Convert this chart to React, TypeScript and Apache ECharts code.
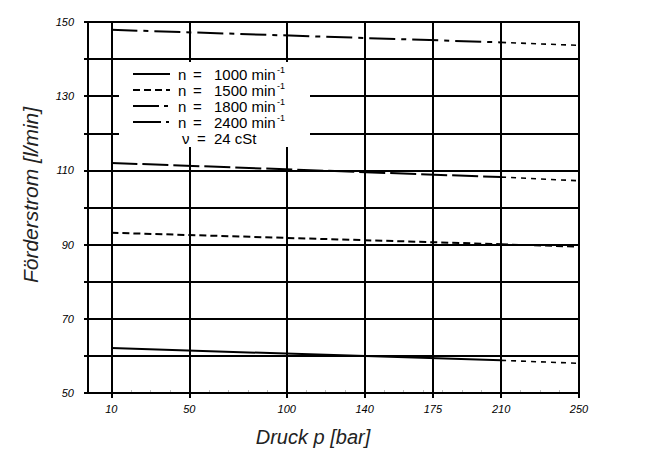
import React, { useEffect, useRef } from 'react';
import * as echarts from 'echarts';

const FONT = '"Liberation Sans", Arial, Helvetica, sans-serif';

// axis ticks
const pressureTicks = [10, 50, 100, 140, 175, 210, 250];
const pressureMinorTicks = [20, 30, 40, 60, 70, 80, 90, 110, 120, 130, 150, 160, 170, 180, 190, 200, 220, 230, 240];
const flowTicks = [50, 70, 90, 110, 130, 150];

// pressures (bar) for the measured part and the extrapolated part
const pressureMain = [10, 210];
const pressureExt = [210, 250];

// delivery flow (l/min)
const flow1000Main = [62.1, 58.8];
const flow1000Ext = [58.8, 58.0];
const flow1500Main = [93.2, 90.1];
const flow1500Ext = [90.1, 89.4];
const flow1800Main = [112.0, 108.2];
const flow1800Ext = [108.2, 107.2];
const flow2400Main = [147.9, 144.5];
const flow2400Ext = [144.5, 143.7];

const speeds = ['1000', '1500', '1800', '2400'];

function pair(xs: number[], ys: number[]) {
  return xs.map((x, i) => [x, ys[i]]);
}

function mainSeries(name: string, ys: number[], dash: any) {
  return {
    name,
    type: 'line',
    data: pair(pressureMain, ys),
    symbol: 'none',
    silent: true,
    z: 5,
    lineStyle: { color: '#000', width: 2, type: dash },
  };
}
function extSeries(name: string, ys: number[], dash: any = [5, 5], width = 1.6) {
  return {
    name: name + ' ext',
    type: 'line',
    data: pair(pressureExt, ys),
    symbol: 'none',
    silent: true,
    z: 5,
    lineStyle: { color: '#000', width, type: dash },
  };
}

const legendDash: any[] = [null, [7, 4], [26, 5, 4, 5], [28, 5, 3, 5]];
const legendRowsY = [74, 90, 106, 122];

function txt(x: number, y: number, text: string, fontSize = 15) {
  return {
    type: 'text', x, y, z: 101,
    style: { text, fontSize, lineHeight: fontSize, fontFamily: FONT, fill: '#000', verticalAlign: 'middle' },
  };
}

function buildGraphic() {
  const els: any[] = [];
  els.push({
    type: 'rect',
    shape: { x: 119, y: 62, width: 191, height: 85 },
    style: { fill: '#fff' },
    z: 100,
  });
  speeds.forEach((s, i) => {
    const y = legendRowsY[i];
    els.push({
      type: 'line',
      shape: { x1: 133, y1: y, x2: 170, y2: y },
      style: { stroke: '#000', lineWidth: 2, lineDash: legendDash[i] || undefined },
      z: 101,
    });
    els.push(txt(178, y, 'n'));
    els.push(txt(193, y, '='));
    els.push(txt(214, y, s + ' min'));
    els.push(txt(277, y - 4, '-1', 9));
  });
  const yv = 138;
  els.push(txt(182, yv, 'ν'));
  els.push(txt(197, yv, '='));
  els.push(txt(214, yv, '24 cSt'));

  // axis titles
  els.push({
    type: 'text', x: 30, y: 195, rotation: Math.PI / 2, z: 101,
    style: { text: 'Förderstrom [l/min]', fontSize: 21, fontStyle: 'italic', fontFamily: FONT, fill: '#222', align: 'center', verticalAlign: 'middle' },
  });
  els.push({
    type: 'text', x: 313, y: 437, z: 101,
    style: { text: 'Druck p [bar]', fontSize: 20, fontStyle: 'italic', fontFamily: FONT, fill: '#222', align: 'center', verticalAlign: 'middle' },
  });
  return els;
}

export default function App() {
  const ref = useRef<HTMLDivElement>(null);
  useEffect(() => {
    const chart = echarts.init(ref.current!, null, { renderer: 'svg' });
    const option: any = {
      animation: false,
      backgroundColor: '#fff',
      grid: { left: 88, right: 79, top: 22, bottom: 59, show: true, borderColor: '#000', borderWidth: 2, backgroundColor: 'transparent', z: 6 },
      xAxis: [
        {
          type: 'value',
          min: -2,
          max: 250,
          position: 'bottom',
          axisLine: { show: true, onZero: false, lineStyle: { color: '#000', width: 2 } },
          axisTick: { show: true, customValues: pressureTicks, length: 5, lineStyle: { color: '#000', width: 2 } },
          axisLabel: { customValues: pressureTicks, fontSize: 11, fontStyle: 'italic', fontFamily: FONT, color: '#000', margin: 10 },
          splitLine: { show: false },
        },
        {
          type: 'value',
          min: -2,
          max: 250,
          position: 'bottom',
          axisLine: { show: false, onZero: false },
          axisTick: { show: true, inside: true, customValues: pressureMinorTicks, length: 3, lineStyle: { color: '#bbb', width: 1 } },
          axisLabel: { show: false },
          splitLine: { show: false },
        },
      ],
      yAxis: {
        type: 'value',
        min: 50,
        max: 150,
        interval: 10,
        axisLine: { show: true, onZero: false, lineStyle: { color: '#000', width: 2 } },
        axisTick: { show: true, length: 4, lineStyle: { color: '#000', width: 2 } },
        axisLabel: {
          fontSize: 11, fontStyle: 'italic', fontFamily: FONT, color: '#000', margin: 14,
          formatter: (v: number) => (flowTicks.includes(v) ? String(v) : ''),
        },
        splitLine: { show: true, lineStyle: { color: '#000', width: 2 } },
      },
      series: [
        {
          ...mainSeries('1000', flow1000Main, 'solid'),
          markLine: {
            silent: true,
            symbol: ['none', 'none'],
            label: { show: false },
            lineStyle: { color: '#000', width: 2, type: 'solid' },
            data: pressureTicks.map((p) => ({ xAxis: p })),
            z: 2,
          },
        },
        extSeries('1000', flow1000Ext),
        mainSeries('1500', flow1500Main, [7, 4]),
        extSeries('1500', flow1500Ext, [7, 4], 1.8),
        mainSeries('1800', flow1800Main, [26, 5]),
        extSeries('1800', flow1800Ext),
        mainSeries('2400', flow2400Main, [26, 6, 5, 6]),
        extSeries('2400', flow2400Ext),
      ],
      graphic: buildGraphic(),
    };
    chart.setOption(option);
    return () => chart.dispose();
  }, []);
  return <div ref={ref} style={{ position: 'absolute', left: 0, top: 0, width: 658, height: 452 }} />;
}
